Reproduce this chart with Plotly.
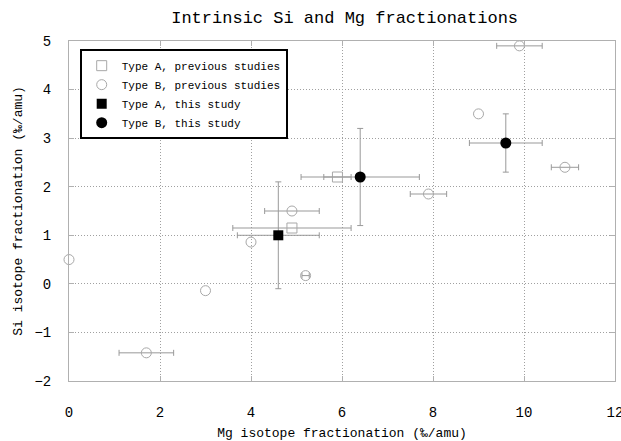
import plotly.graph_objects as go

# Type A, previous studies (open squares)
a_prev_mg = [5.9, 4.9]
a_prev_si = [2.2, 1.15]
a_prev_mg_err = [0.3, 1.3]

# Type B, previous studies (open circles) with Mg uncertainties
b_prev_mg = [1.7, 4.9, 5.2, 7.9, 9.9, 10.9]
b_prev_si = [-1.42, 1.5, 0.17, 1.85, 4.9, 2.4]
b_prev_mg_err = [0.6, 0.6, 0.08, 0.4, 0.5, 0.3]

# Type B, previous studies without reported uncertainties
b_prev_noerr_mg = [0.0, 3.0, 4.0, 9.0]
b_prev_noerr_si = [0.5, -0.14, 0.86, 3.5]

# Type A, this study (filled square)
a_this_mg = [4.6]
a_this_si = [1.0]
a_this_mg_err = [0.9]
a_this_si_err = [1.1]

# Type B, this study (filled circles)
b_this_mg = [6.4, 9.6]
b_this_si = [2.2, 2.9]
b_this_mg_err = [1.3, 0.8]
b_this_si_err = [1.0, 0.6]

x_ticks = [0, 2, 4, 6, 8, 10, 12]
y_ticks = [-2, -1, 0, 1, 2, 3, 4, 5]

FONT = "Liberation Mono, DejaVu Sans Mono, monospace"
ERR_COLOR = "#999999"
OPEN_COLOR = "#a8a8a8"


def err(vals):
    return dict(type="data", array=vals, visible=True, color=ERR_COLOR,
                thickness=1, width=3)


open_square = dict(symbol="square-open", size=10, color=OPEN_COLOR,
                   line=dict(width=1, color=OPEN_COLOR))
open_circle = dict(symbol="circle-open", size=10, color=OPEN_COLOR,
                   line=dict(width=1, color=OPEN_COLOR))

fig = go.Figure()

fig.add_trace(go.Scatter(
    x=a_prev_mg, y=a_prev_si, mode="markers", name="Type A, previous studies",
    marker=open_square, error_x=err(a_prev_mg_err),
))

fig.add_trace(go.Scatter(
    x=b_prev_mg, y=b_prev_si, mode="markers", name="Type B, previous studies",
    legendgroup="bprev", marker=open_circle, error_x=err(b_prev_mg_err),
))
fig.add_trace(go.Scatter(
    x=b_prev_noerr_mg, y=b_prev_noerr_si, mode="markers",
    name="Type B, previous studies", legendgroup="bprev", showlegend=False,
    marker=open_circle, cliponaxis=False,
))

fig.add_trace(go.Scatter(
    x=a_this_mg, y=a_this_si, mode="markers", name="Type A, this study",
    marker=dict(symbol="square", size=10, color="black"),
    error_x=err(a_this_mg_err), error_y=err(a_this_si_err),
))

fig.add_trace(go.Scatter(
    x=b_this_mg, y=b_this_si, mode="markers", name="Type B, this study",
    marker=dict(symbol="circle", size=11, color="black"),
    error_x=err(b_this_mg_err), error_y=err(b_this_si_err),
))

# drop shadow behind the legend box
fig.add_shape(type="rect", xref="paper", yref="paper",
              x0=0.03, x1=0.387, y0=0.738, y1=0.968,
              fillcolor="black", line=dict(width=0), layer="above")

fig.update_layout(
    width=621, height=441,
    margin=dict(l=69, r=6, t=41, b=60, autoexpand=False),
    paper_bgcolor="white", plot_bgcolor="white",
    font=dict(family=FONT, size=14, color="black"),
    title=dict(text="Intrinsic Si and Mg fractionations",
               x=0.555, xanchor="center", y=0.962, yanchor="middle",
               font=dict(family=FONT, size=17, color="black")),
    showlegend=True,
    legend=dict(x=0.0196, y=0.976, xanchor="left", yanchor="top",
                bgcolor="white", bordercolor="black", borderwidth=2,
                font=dict(family=FONT, size=11, color="black"),
                tracegroupgap=0, itemwidth=30),
)

axis_common = dict(
    showline=True, linecolor="#b0b0b0", linewidth=1, mirror="ticks",
    showgrid=True, gridcolor="#a0a0a0", griddash="1px,2px", gridwidth=1,
    ticks="inside", ticklen=5, tickcolor="#b0b0b0", zeroline=False,
    tickfont=dict(family=FONT, size=14, color="black"),
    ticklabeloverflow="allow", automargin=False,
)

fig.update_xaxes(
    range=[0, 12], tickvals=x_ticks, ticklabelstandoff=18,
    title=dict(text="Mg isotope fractionation (‰/amu)", standoff=8,
               font=dict(family=FONT, size=13, color="black")),
    **axis_common,
)
fig.update_yaxes(
    range=[-2, 5], tickvals=y_ticks, ticklabelstandoff=14,
    title=dict(text="Si isotope fractionation (‰/amu)", standoff=8,
               font=dict(family=FONT, size=13, color="black")),
    **axis_common,
)

fig.write_html("out.html")
